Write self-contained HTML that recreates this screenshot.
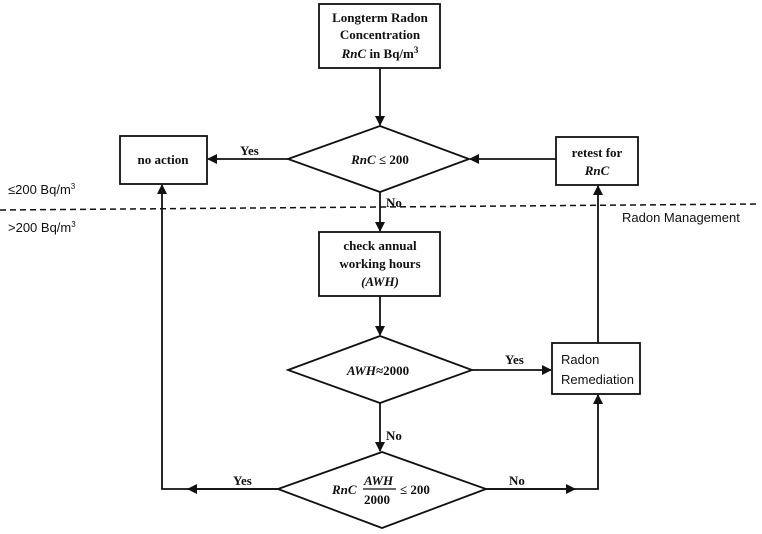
<!DOCTYPE html>
<html><head><style>
body{margin:0;background:#fff;}
svg{display:block;}
.t{font-family:"Liberation Serif",serif;font-weight:bold;font-size:13px;fill:#111;}
.s{font-family:"Liberation Sans",sans-serif;font-size:13px;fill:#111;}
</style></head><body>
<svg width="762" height="534" viewBox="0 0 762 534" xmlns="http://www.w3.org/2000/svg">
<defs><marker id="a" markerWidth="10" markerHeight="10" refX="9" refY="5" orient="auto" markerUnits="userSpaceOnUse"><path d="M0,0 L10,5 L0,10 z" fill="#111"/></marker></defs>
<g stroke="#111" stroke-width="1.8" fill="none">
<rect x="319" y="4" width="121" height="64" fill="#fff"/>
<rect x="120" y="136" width="87" height="48"/>
<rect x="556" y="137" width="82" height="48"/>
<rect x="319" y="232" width="121" height="64"/>
<rect x="552" y="343" width="88" height="51"/>
<polygon points="288,159 380,126 469,159 380,192"/>
<polygon points="288,370 380,336 472,370 380,403" />
<polygon points="278,489 382,452 486,489 382,528"/>
<line x1="380" y1="68" x2="380" y2="125" marker-end="url(#a)"/>
<line x1="288" y1="159" x2="208" y2="159" marker-end="url(#a)"/>
<line x1="556" y1="159" x2="470" y2="159" marker-end="url(#a)"/>
<line x1="380" y1="192" x2="380" y2="231" marker-end="url(#a)"/>
<line x1="380" y1="296" x2="380" y2="335" marker-end="url(#a)"/>
<line x1="472" y1="370" x2="551" y2="370" marker-end="url(#a)"/>
<line x1="380" y1="403" x2="380" y2="451" marker-end="url(#a)"/>
<line x1="598" y1="343" x2="598" y2="186" marker-end="url(#a)"/>
<polyline points="278,489 162,489 162,185" marker-end="url(#a)"/>
<line x1="278" y1="489" x2="188" y2="489" marker-end="url(#a)"/>
<polyline points="486,489 598,489 598,395" marker-end="url(#a)"/>
<line x1="486" y1="489" x2="575" y2="489" marker-end="url(#a)"/>
<line x1="0" y1="210" x2="760" y2="204" stroke-dasharray="6,4" stroke-width="1.5"/>
</g>
<text class="t" text-anchor="middle" x="380" y="22">Longterm Radon</text>
<text class="t" text-anchor="middle" x="380" y="39">Concentration</text>
<text class="t" text-anchor="middle" x="380" y="58"><tspan font-style="italic">RnC</tspan> in Bq/m<tspan font-size="9" dy="-5">3</tspan></text>
<text class="t" text-anchor="middle" x="163" y="164">no action</text>
<text class="t" text-anchor="middle" x="597" y="157">retest for</text>
<text class="t" text-anchor="middle" x="597" y="175" font-style="italic">RnC</text>
<text class="t" text-anchor="middle" x="380" y="164"><tspan font-style="italic">RnC</tspan> ≤ 200</text>
<text class="t" x="240" y="155">Yes</text>
<text class="t" x="386" y="207">No</text>
<text class="t" text-anchor="middle" x="380" y="250">check annual</text>
<text class="t" text-anchor="middle" x="380" y="268">working hours</text>
<text class="t" text-anchor="middle" x="380" y="286" font-style="italic">(AWH)</text>
<text class="t" text-anchor="middle" x="378" y="375"><tspan font-style="italic">AWH</tspan>≈2000</text>
<text class="t" x="505" y="364">Yes</text>
<text class="t" x="386" y="440">No</text>
<text class="t" x="332" y="494" font-style="italic">RnC</text>
<text class="t" x="364" y="485" font-style="italic">AWH</text>
<line x1="363" y1="489" x2="396" y2="489" stroke="#111" stroke-width="1.2"/>
<text class="t" x="364" y="504">2000</text>
<text class="t" x="400" y="494">≤ 200</text>
<text class="t" x="233" y="485">Yes</text>
<text class="t" x="509" y="485">No</text>
<text class="s" x="561" y="364" font-size="15">Radon</text>
<text class="s" x="561" y="384" font-size="15">Remediation</text>
<text class="s" x="8" y="194" font-size="12">≤200 Bq/m<tspan font-size="8" dy="-5">3</tspan></text>
<text class="s" x="8" y="232" font-size="12">&gt;200 Bq/m<tspan font-size="8" dy="-5">3</tspan></text>
<text class="s" x="622" y="222">Radon Management</text>
</svg>
</body></html>
